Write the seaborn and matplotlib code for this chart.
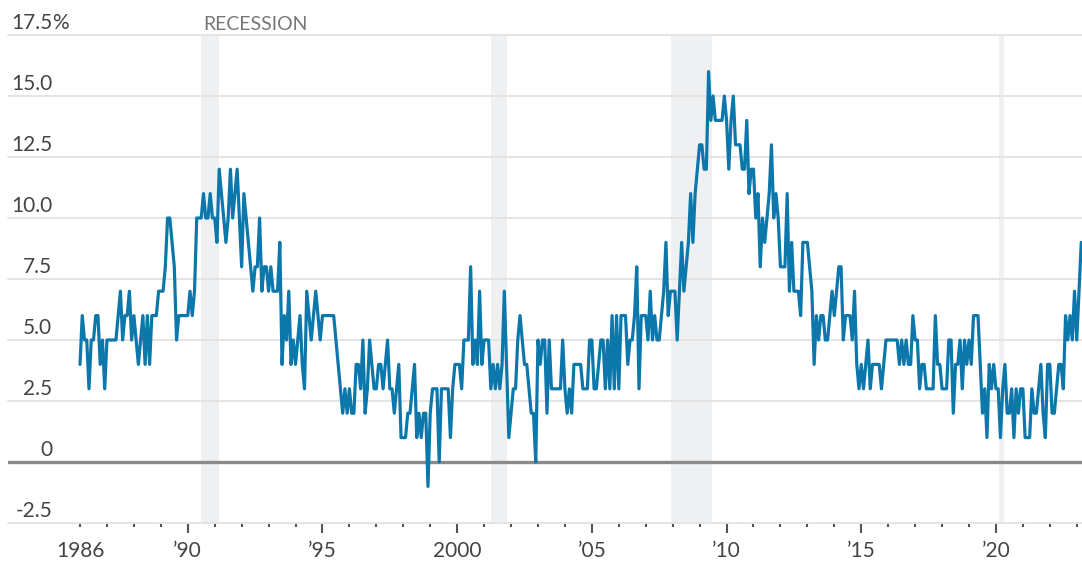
import pandas as pd
import seaborn as sns
import matplotlib.pyplot as plt
import matplotlib.transforms as mtransforms
from matplotlib.ticker import FixedLocator

# monthly values, percent (Jan 1986 - Mar 2023)
vals_1986_1991 = [
    4, 6, 5, 5, 3, 5, 5, 6, 6, 4, 5, 3,
    5, 5, 5, 5, 5, 6, 7, 5, 6, 6, 7, 5,
    6, 5, 4, 5, 6, 4, 6, 4, 6, 6, 6, 7,
    7, 7, 8, 10, 10, 9, 8, 5, 6, 6, 6, 6,
    6, 7, 6, 7, 10, 10, 10, 11, 10, 10, 11, 10,
    10, 9, 12, 11, 10, 9, 10, 12, 10, 11, 12, 10,
]
vals_1992_1997 = [
    8, 11, 10, 9, 8, 7, 8, 8, 10, 7, 8, 8,
    7, 8, 7, 7, 7, 9, 4, 6, 5, 7, 4, 5,
    4, 5, 6, 4, 3, 7, 6, 5, 6, 7, 6, 5,
    6, 6, 6, 6, 6, 6, 5, 4, 3, 2, 3, 2,
    3, 2, 2, 4, 4, 3, 5, 2, 3, 5, 4, 3,
    3, 4, 4, 3, 4, 5, 3, 3, 2, 3, 4, 1,
]
vals_1998_2003 = [
    1, 1, 2, 2, 3, 4, 1, 2, 1, 2, 2, -1,
    2, 3, 3, 3, 0, 3, 3, 3, 3, 1, 3, 4,
    4, 4, 3, 5, 5, 5, 8, 4, 5, 4, 7, 4,
    5, 5, 5, 3, 4, 3, 4, 3, 4, 7, 4, 1,
    2, 3, 3, 5, 6, 5, 4, 4, 3, 2, 2, 0,
    5, 4, 5, 5, 2, 5, 3, 3, 3, 3, 3, 5,
]
vals_2004_2009 = [
    3, 2, 3, 2, 4, 4, 4, 4, 3, 3, 3, 5,
    5, 3, 3, 4, 5, 5, 3, 5, 3, 6, 3, 6,
    3, 6, 6, 6, 4, 5, 5, 6, 8, 3, 6, 6,
    6, 5, 7, 5, 6, 5, 5, 6, 7, 9, 6, 7,
    7, 7, 5, 7, 9, 7, 8, 9, 11, 9, 11, 12,
    13, 13, 12, 12, 16, 14, 15, 14, 14, 14, 14, 15,
]
vals_2010_2015 = [
    14, 12, 14, 15, 13, 13, 13, 12, 12, 14, 11, 12,
    12, 10, 11, 8, 10, 9, 10, 11, 13, 10, 11, 10,
    8, 8, 8, 11, 7, 9, 7, 7, 7, 6, 9, 9,
    9, 8, 7, 4, 6, 5, 6, 6, 5, 5, 6, 7,
    6, 7, 8, 8, 5, 6, 6, 6, 5, 7, 4, 3,
    4, 3, 4, 5, 3, 4, 4, 4, 4, 3, 4, 5,
]
vals_2016_2023 = [
    5, 5, 5, 5, 5, 4, 5, 4, 5, 4, 4, 6,
    5, 5, 3, 4, 4, 3, 3, 3, 3, 6, 4, 4,
    3, 3, 3, 5, 5, 2, 4, 4, 5, 3, 5, 4,
    5, 4, 6, 6, 6, 4, 2, 3, 1, 4, 3, 4,
    3, 3, 1, 3, 4, 2, 2, 3, 1, 3, 2, 3,
    3, 1, 1, 1, 3, 2, 2, 3, 4, 2, 1, 4,
    4, 2, 2, 3, 4, 4, 3, 6, 5, 6, 5, 7,
    5, 7, 9,
]

recessions = [(1990.5, 1991.17), (2001.25, 2001.84), (2007.92, 2009.45), (2020.12, 2020.3)]

y_ticks = [-2.5, 0, 2.5, 5.0, 7.5, 10.0, 12.5, 15.0, 17.5]
y_labels = ['-2.5', '0', '2.5', '5.0', '7.5', '10.0', '12.5', '15.0', '17.5']
x_ticks = [1986, 1990, 1995, 2000, 2005, 2010, 2015, 2020]
x_labels = ['1986', '\u201990', '\u201995', '2000', '\u201905', '\u201910', '\u201915', '\u201920']

values = vals_1986_1991 + vals_1992_1997 + vals_1998_2003 + vals_2004_2009 + vals_2010_2015 + vals_2016_2023
dates = pd.date_range('1986-01-01', periods=len(values), freq='MS')
df = pd.DataFrame({'year': dates.year + (dates.month - 1) / 12, 'pct': values})

BLUE = '#0b77ab'
GRID = '#e4e4e4'
TXT = '#444444'

sns.set_theme(style='white')
plt.rcParams['font.family'] = ['Lato', 'DejaVu Sans']

fig = plt.figure(figsize=(10.82, 5.64), dpi=100)
ax = fig.add_axes([8 / 1082, 41 / 564, 1074 / 1082, 488 / 564])

for a, b in recessions:
    ax.axvspan(a, b, color='#eef0f2', lw=0, zorder=0)

for yv in y_ticks:
    if yv != 0:
        ax.axhline(yv, color=GRID, lw=1.4, zorder=1, clip_on=False)
ax.axhline(0, color='#8a8a8a', lw=2.4, zorder=2)

sns.lineplot(data=df, x='year', y='pct', ax=ax, color=BLUE, linewidth=2.3, zorder=3)

ax.set_xlim(1983.327, 2023.194)
ax.set_ylim(-2.5, 17.5)
for s in ax.spines.values():
    s.set_visible(False)

ax.set_xlabel('')
ax.set_ylabel('')
ax.set_yticks([])
ax.set_xticks(x_ticks)
ax.set_xticklabels(x_labels)
ax.xaxis.set_minor_locator(FixedLocator(range(1986, 2024)))
ax.tick_params(axis='x', which='major', bottom=True, length=7, width=1.5, color='#555555',
               pad=6, labelsize=15, labelcolor=TXT)
ax.tick_params(axis='x', which='minor', bottom=True, length=3, width=1.5, color='#555555')
ax.xaxis.get_major_ticks()[0].tick1line.set_markersize(3)

# y labels sit above the gridlines
trans = mtransforms.blended_transform_factory(ax.transAxes, ax.transData)
for yv, lab in zip(y_ticks, y_labels):
    ax.text(0.041, yv + 0.25, lab, transform=trans, ha='right', va='baseline',
            fontsize=15, color=TXT, clip_on=False)
ax.text(0.041, 17.5 + 0.25, '%', transform=trans, ha='left', va='baseline',
        fontsize=15, color=TXT, clip_on=False)

ax.text(1990.56, 17.5 + 0.22, 'RECESSION', ha='left', va='baseline', fontsize=14,
        color='#777777', clip_on=False)

fig.savefig('out.png', dpi=100)
